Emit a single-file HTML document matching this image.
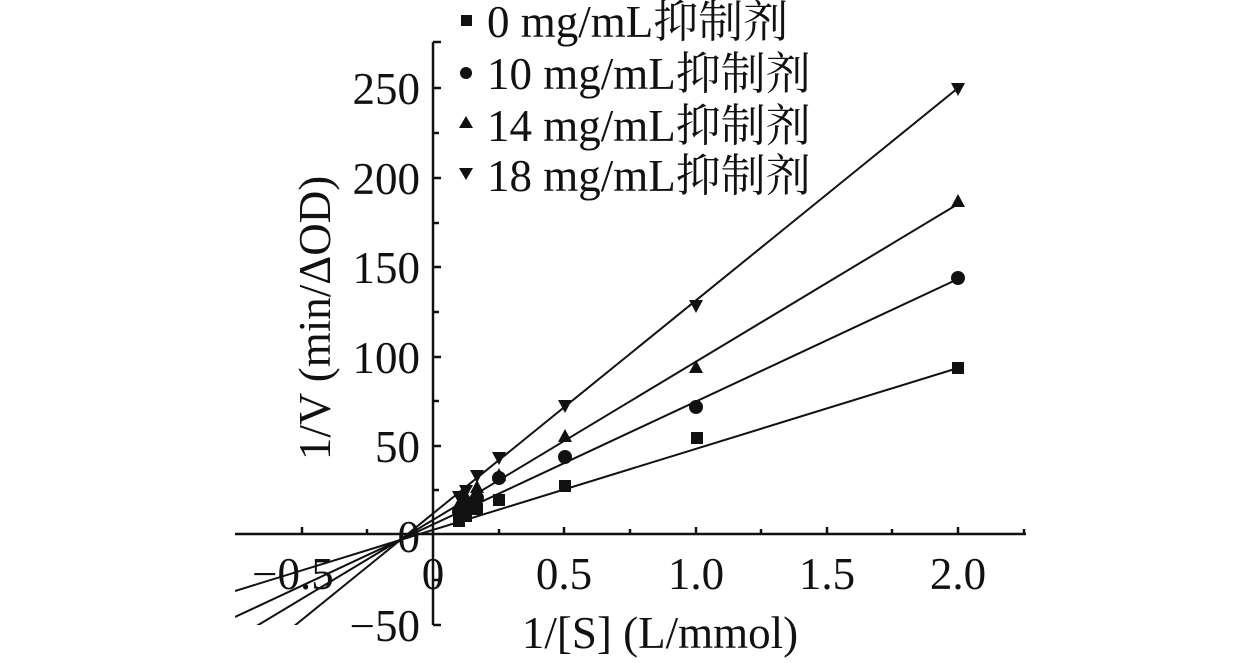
<!DOCTYPE html>
<html><head><style>
body{margin:0;background:#fff}
text{font-family:"Liberation Serif","Noto Serif CJK SC",serif;fill:#111}
</style></head><body>
<svg width="1260" height="658" viewBox="0 0 1260 658" xmlns="http://www.w3.org/2000/svg">
<defs><clipPath id="c"><rect x="235" y="40" width="800" height="585"/></clipPath></defs>
<g stroke="#111" stroke-width="2.5" fill="none">
<line x1="433" y1="42" x2="433" y2="625"/>
<line x1="235" y1="534" x2="1026" y2="534"/>
<line x1="433" y1="625" x2="441" y2="625"/>
</g>
<g stroke="#111" stroke-width="2.5">
<line x1="433" y1="42" x2="441" y2="42"/>
<line x1="433" y1="88" x2="441" y2="88"/><line x1="433" y1="133" x2="439" y2="133"/>
<line x1="433" y1="178" x2="441" y2="178"/><line x1="433" y1="223" x2="439" y2="223"/>
<line x1="433" y1="267" x2="441" y2="267"/><line x1="433" y1="312" x2="439" y2="312"/>
<line x1="433" y1="357" x2="441" y2="357"/><line x1="433" y1="401" x2="439" y2="401"/>
<line x1="433" y1="446" x2="441" y2="446"/><line x1="433" y1="490" x2="439" y2="490"/>
<line x1="433" y1="580" x2="439" y2="580"/>
<line x1="302" y1="534" x2="302" y2="527"/><line x1="367" y1="534" x2="367" y2="529"/>
<line x1="499" y1="534" x2="499" y2="529"/><line x1="564" y1="534" x2="564" y2="527"/>
<line x1="630" y1="534" x2="630" y2="529"/><line x1="696" y1="534" x2="696" y2="527"/>
<line x1="761" y1="534" x2="761" y2="529"/><line x1="827" y1="534" x2="827" y2="527"/>
<line x1="892" y1="534" x2="892" y2="529"/><line x1="958" y1="534" x2="958" y2="527"/>
<line x1="1024" y1="534" x2="1024" y2="529"/>
</g>
<g clip-path="url(#c)" stroke="#111" stroke-width="2">
<line x1="235" y1="591" x2="958" y2="368"/>
<line x1="235" y1="617" x2="958" y2="279"/>
<line x1="235" y1="639" x2="958" y2="204"/>
<line x1="235" y1="674" x2="958" y2="88"/>
</g>
<g fill="#111">
<rect x="952" y="362" width="12" height="12"/><rect x="691" y="432" width="12" height="12"/>
<rect x="559" y="480" width="12" height="12"/><rect x="493" y="494" width="12" height="12"/>
<rect x="471" y="503" width="12" height="12"/><rect x="460" y="510" width="12" height="12"/>
<rect x="453" y="515" width="12" height="12"/>
<circle cx="958" cy="278" r="7"/><circle cx="696" cy="407" r="7"/>
<circle cx="565" cy="457" r="7"/><circle cx="499" cy="478" r="7"/>
<circle cx="477" cy="498" r="7"/><circle cx="466" cy="505" r="7"/><circle cx="459" cy="512" r="7"/>
<polygon points="958,194 951,207 965,207"/><polygon points="696,360 689,373 703,373"/>
<polygon points="565,429 558,442 572,442"/><polygon points="499,468 492,481 506,481"/>
<polygon points="477,480 470,493 484,493"/><polygon points="466,490 459,503 473,503"/>
<polygon points="459,497 452,510 466,510"/>
<polygon points="951,83 965,83 958,96"/><polygon points="689,300 703,300 696,313"/>
<polygon points="558,400 572,400 565,413"/><polygon points="492,452 506,452 499,465"/>
<polygon points="470,470 484,470 477,483"/><polygon points="459,485 473,485 466,498"/>
<polygon points="452,491 466,491 459,504"/>
</g>
<g font-size="45" text-anchor="end">
<text x="420" y="104">250</text><text x="420" y="194">200</text>
<text x="420" y="283">150</text><text x="420" y="373">100</text>
<text x="420" y="462">50</text><text x="420" y="552">0</text>
<text x="420" y="641">−50</text>
</g>
<g font-size="45" text-anchor="middle">
<text x="293" y="589">−0.5</text><text x="433" y="589">0</text>
<text x="564" y="589">0.5</text><text x="696" y="589">1.0</text>
<text x="827" y="589">1.5</text><text x="958" y="589">2.0</text>
<text x="660" y="648">1/[S] (L/mmol)</text>
<text transform="translate(330,318) rotate(-90)">1/V (min/ΔOD)</text>
</g>
<g font-size="45">
<rect x="461" y="15" width="11" height="11" fill="#111"/>
<text x="487" y="37">0 mg/mL抑制剂</text>
<circle cx="466" cy="73" r="6" fill="#111"/>
<text x="487" y="89">10 mg/mL抑制剂</text>
<polygon points="466,116 459,128 473,128" fill="#111"/>
<text x="487" y="141">14 mg/mL抑制剂</text>
<polygon points="459,168 473,168 466,180" fill="#111"/>
<text x="487" y="191">18 mg/mL抑制剂</text>
</g>
</svg>
</body></html>
